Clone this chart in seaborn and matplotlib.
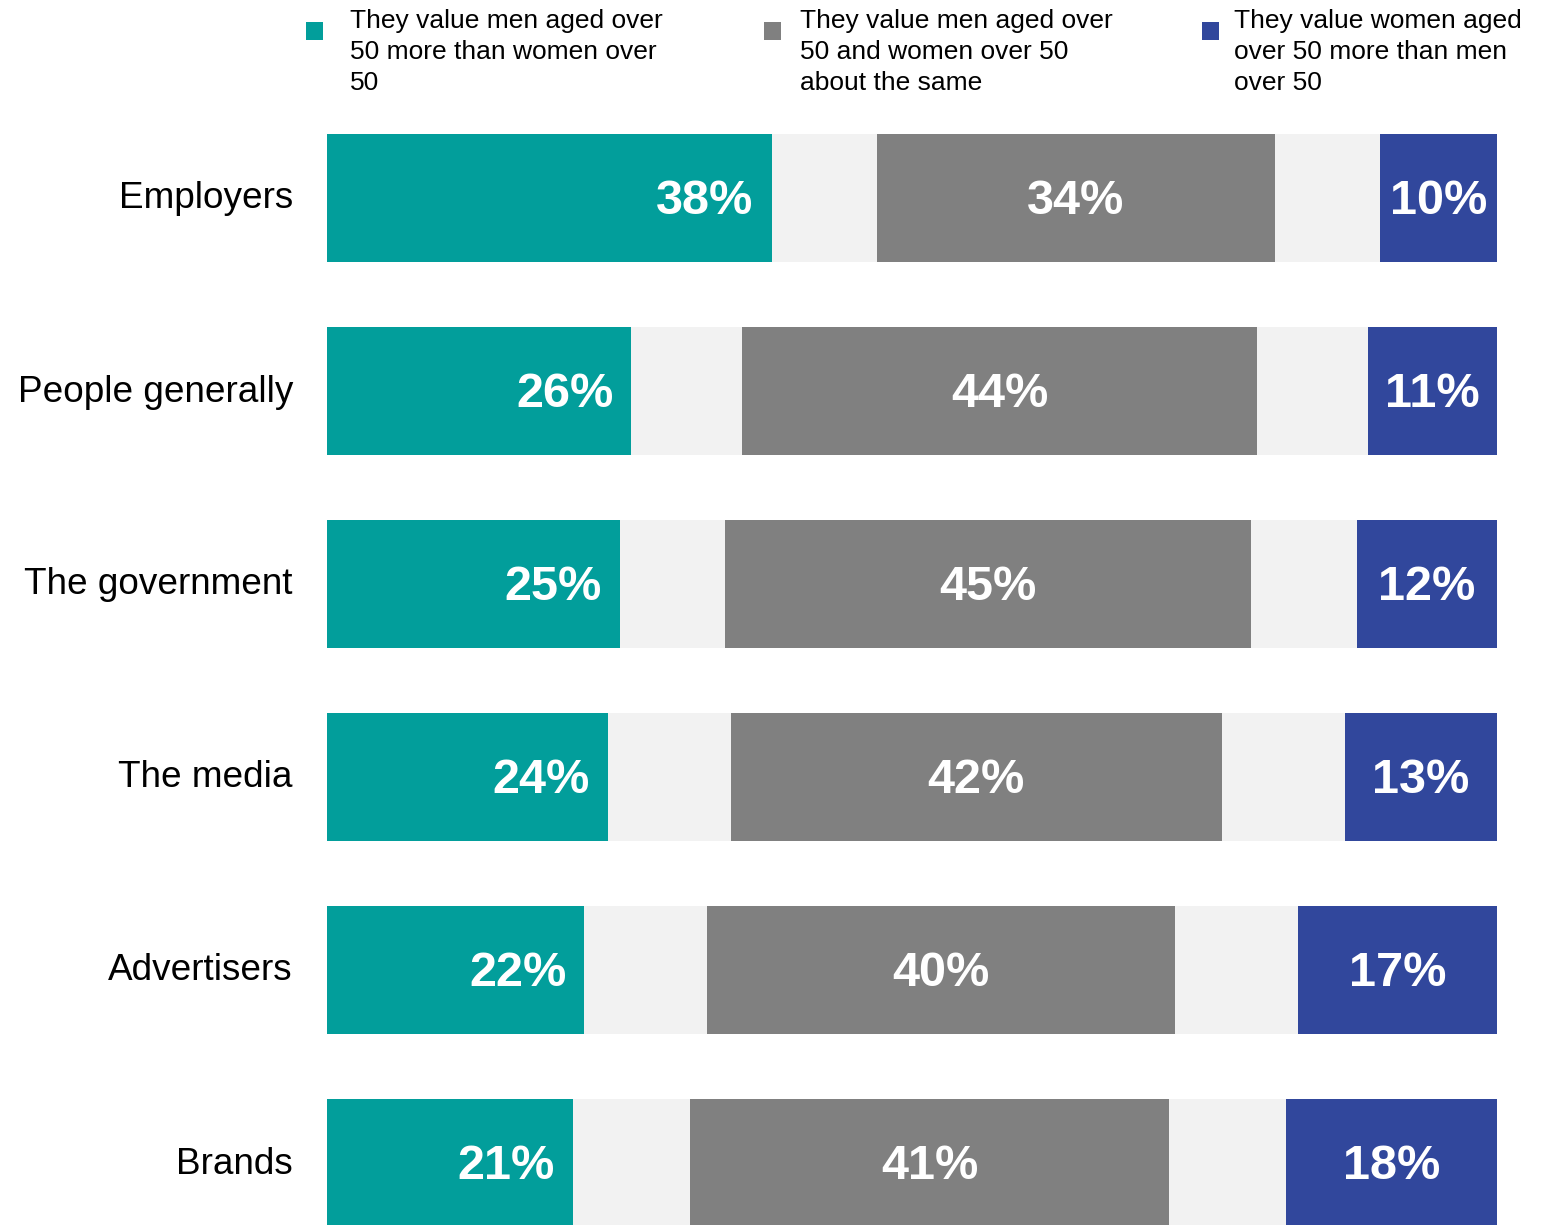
import matplotlib
matplotlib.use("Agg")
import matplotlib.pyplot as plt
from matplotlib.patches import Rectangle
from matplotlib.transforms import ScaledTranslation
import seaborn as sns
import pandas as pd
import numpy as np

# ---- data ----
categories = ["Employers", "People generally", "The government",
              "The media", "Advertisers", "Brands"]
men_more = [38, 26, 25, 24, 22, 21]
same = [34, 44, 45, 42, 40, 41]
women_more = [10, 11, 12, 13, 17, 18]

legend_labels = [
    "They value men aged over\n50 more than women over\n50",
    "They value men aged over\n50 and women over 50\nabout the same",
    "They value women aged\nover 50 more than men\nover 50",
]

TEAL = "#029E9B"
GREY = "#808080"
BLUE = "#31479C"
GAP = "#F2F2F2"

sns.set_theme(style="white")
plt.rcParams["font.family"] = ["Liberation Sans", "DejaVu Sans"]

W, H = 1555, 1225
fig = plt.figure(figsize=(W / 100, H / 100), dpi=100)
ax = fig.add_axes([327 / W, 0, 1170 / W, 1 - 134 / H])

m = np.array(men_more, float)
s = np.array(same, float)
w = np.array(women_more, float)
gap = (100 - m - s - w) / 2
c1 = m
c2 = c1 + gap
c3 = c2 + s
c4 = c3 + gap
c5 = c4 + w

df = pd.DataFrame({"category": categories, "c1": c1, "c2": c2,
                   "c3": c3, "c4": c4, "c5": c5})

bar_h = 128 / 193
for col, colr in [("c5", BLUE), ("c4", GAP), ("c3", GREY), ("c2", GAP), ("c1", TEAL)]:
    sns.barplot(data=df, x=col, y="category", orient="h", color=colr,
                saturation=1, width=bar_h, linewidth=0, ax=ax)

ax.set_xlim(0, 100)
ax.set_ylim(5 + (1225 - 1163) / 193, -64 / 193)
ax.set_xlabel("")
ax.set_ylabel("")
ax.set_xticks([])
for sp in ax.spines.values():
    sp.set_visible(False)
ax.tick_params(axis="y", length=0, pad=24.5, labelsize=26.6, colors="black")
for lbl in ax.get_yticklabels():
    lbl.set_transform(lbl.get_transform() + ScaledTranslation(0, 3 / 100, fig.dpi_scale_trans))

# value labels
lab_kw = dict(color="white", fontsize=35, fontweight="bold", va="center")
pad = 18 / 1170 * 100
dy = 0.02
for i in range(len(categories)):
    ax.text(c1[i] - pad, i + dy, f"{men_more[i]}%", ha="right", **lab_kw)
    ax.text((c2[i] + c3[i]) / 2, i + dy, f"{same[i]}%", ha="center", **lab_kw)
    ax.text((c4[i] + c5[i]) / 2, i + dy, f"{women_more[i]}%", ha="center", **lab_kw)

# legend
sq_x = [306, 764, 1202]
tx_x = [350, 800, 1234]
for colr, sx, tx, lab in zip([TEAL, GREY, BLUE], sq_x, tx_x, legend_labels):
    fig.add_artist(Rectangle((sx / W, 1 - 40 / H), 17 / W, 18 / H,
                             transform=fig.transFigure, color=colr, lw=0))
    fig.text(tx / W, 1 - 9 / H, lab, ha="left", va="top", fontsize=19,
             linespacing=1.38, color="black")

fig.savefig("out.png", dpi=100)
